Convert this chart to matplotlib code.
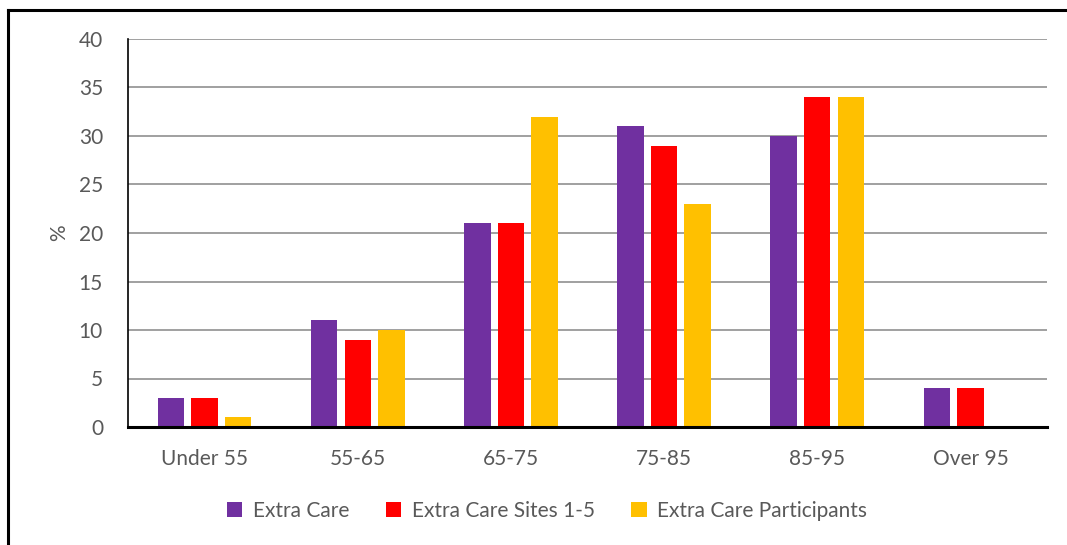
import matplotlib
matplotlib.use("Agg")
import matplotlib.pyplot as plt
from matplotlib.lines import Line2D
from matplotlib.patches import Patch
import numpy as np

categories = ["Under 55", "55-65", "65-75", "75-85", "85-95", "Over 95"]
series_names = ["Extra Care", "Extra Care Sites 1-5", "Extra Care Participants"]
extra_care = [3, 11, 21, 31, 30, 4]
sites_1_5 = [3, 9, 21, 29, 34, 4]
participants = [1, 10, 32, 23, 34, 0]
colors = ["#7030A0", "#FF0000", "#FFC000"]
y_ticks = [0, 5, 10, 15, 20, 25, 30, 35, 40]

plt.rcParams["font.family"] = ["Lato", "DejaVu Sans"]
text_color = "#595959"
fs = 15

fig = plt.figure(figsize=(10.67, 5.45), dpi=100)
ax = fig.add_axes([128 / 1067, 1 - 427 / 545, (1047 - 128) / 1067, (427 - 39) / 545])

x = np.arange(len(categories))
bar_w = 0.173
step = 0.219
for i, (vals, col, name) in enumerate(zip([extra_care, sites_1_5, participants], colors, series_names)):
    ax.bar(x + (i - 1) * step, vals, width=bar_w, color=col, label=name, zorder=3)

ax.set_xlim(-0.5, len(categories) - 0.5)
ax.set_ylim(0, 40)
ax.set_yticks(y_ticks)
ax.set_xticks(x)
ax.set_xticklabels(categories)
ax.yaxis.grid(True, color="#A0A0A0", linewidth=1.4, zorder=0)
ax.set_axisbelow(True)

for s in ["top", "right"]:
    ax.spines[s].set_visible(False)
ax.spines["left"].set_color("black")
ax.spines["left"].set_linewidth(1.2)
ax.spines["bottom"].set_color("black")
ax.spines["bottom"].set_linewidth(2.2)
ax.spines["bottom"].set_zorder(4)

ax.tick_params(axis="both", length=0, labelsize=fs, labelcolor=text_color)
ax.tick_params(axis="x", pad=16)
ax.tick_params(axis="y", pad=18)
ax.set_ylabel("%", fontsize=fs, color=text_color, labelpad=7)

handles = [Patch(facecolor=c, edgecolor="none") for c in colors]
fig.legend(handles, series_names, loc="center", bbox_to_anchor=(547 / 1067, 1 - 511 / 545),
           ncol=3, frameon=False, fontsize=fs, labelcolor=text_color,
           handlelength=0.75, handleheight=0.75, handletextpad=0.5, columnspacing=1.75)

# outer frame edges (top and left)
fig.add_artist(Line2D([7.5 / 1067, 1.0], [1 - 9.5 / 545, 1 - 9.5 / 545], color="black",
                      linewidth=2.2, transform=fig.transFigure))
fig.add_artist(Line2D([7.5 / 1067, 7.5 / 1067], [0, 1 - 9.5 / 545], color="black",
                      linewidth=2.2, transform=fig.transFigure))

fig.savefig("out.png", dpi=100)
